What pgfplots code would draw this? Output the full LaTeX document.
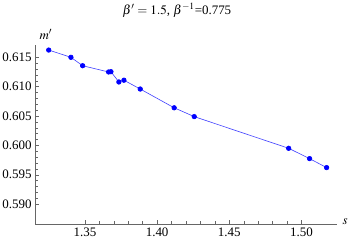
\documentclass[border=0pt]{standalone}
\usepackage{mathptmx}
\usepackage{fontspec}
\setmainfont{Liberation Serif}
\usepackage{pgfplots}
\pgfplotsset{compat=1.18}
\begin{document}
\begin{tikzpicture}[font=\fontsize{13}{15}\selectfont]
\useasboundingbox (-35bp,-22bp) rectangle (314bp,224bp);
\begin{axis}[
  at={(0,0)}, anchor=origin,
  scale only axis, width=302bp, height=179bp,
  xmin=1.3154, xmax=1.5246, ymin=0.5866, ymax=0.6171,
  axis lines=left,
  axis line style={-, gray!80!black},
  tick align=inside,
  major tick length=4bp, minor tick length=2.5bp,
  tick style={gray!80!black, line width=0.4pt},
  xtick={1.35,1.40,1.45,1.50},
  ytick={0.590,0.595,0.600,0.605,0.610,0.615},
  minor tick num=4,
  /pgf/number format/assume math mode=true,
  xticklabel style={/pgf/number format/fixed, /pgf/number format/fixed zerofill, /pgf/number format/precision=2},
  yticklabel style={/pgf/number format/fixed, /pgf/number format/fixed zerofill, /pgf/number format/precision=3},
  scaled ticks=false,
  xlabel={$s$},
  every axis x label/.style={at={(axis description cs:1,0)}, anchor=west, xshift=2bp, yshift=2bp},
  ylabel={$m'$},
  every axis y label/.style={at={(axis description cs:0,1)}, anchor=south west, xshift=1bp, yshift=2bp},
  title={$\beta' = 1.5$, $\beta^{-1}$=0.775},
  title style={at={(axis description cs:0.47,1)}, anchor=base, yshift=25bp},
]
\addplot[color=blue!75, line width=0.6pt, mark=*, mark size=2.3pt, mark options={fill=blue, draw=blue}] coordinates {
(1.3249,0.61624)
(1.3403,0.61500)
(1.3484,0.61357)
(1.3664,0.61250)
(1.3680,0.61255)
(1.3735,0.61080)
(1.3770,0.61110)
(1.3883,0.60960)
(1.4118,0.60640)
(1.4257,0.60490)
(1.4911,0.59950)
(1.5056,0.59774)
(1.5174,0.59621)
};
\end{axis}
\end{tikzpicture}
\end{document}
